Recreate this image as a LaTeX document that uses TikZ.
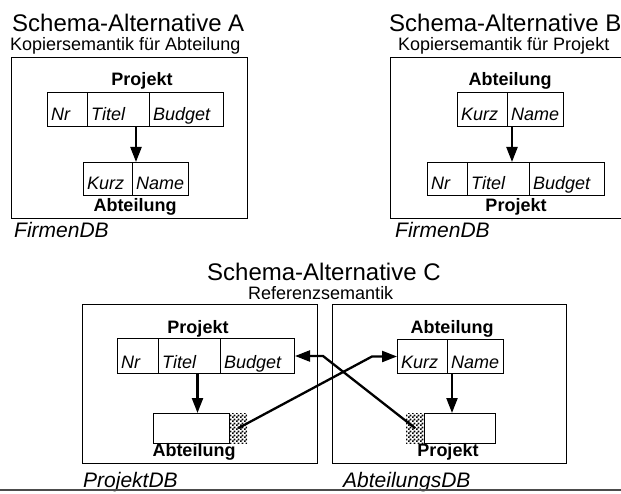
\documentclass[tikz,border=0pt]{standalone}
\usepackage{fontspec}
\setmainfont{Liberation Sans}
\usetikzlibrary{arrows.meta,patterns,calc}
\pgfdeclarepatternformonly{finecheck}{\pgfpointorigin}{\pgfpoint{4pt}{4pt}}{\pgfpoint{4pt}{4pt}}{%
 \pgfpathrectangle{\pgfpointorigin}{\pgfpoint{2pt}{2pt}}%
 \pgfpathrectangle{\pgfpoint{2pt}{2pt}}{\pgfpoint{2pt}{2pt}}%
 \pgfusepath{fill}}
\tikzset{
 dbbox/.style={draw, line width=1pt, inner sep=0, anchor=north west},
 cell/.style={draw, line width=1pt, inner sep=0, anchor=north west},
 chk/.style={pattern=finecheck, inner sep=0, anchor=north west},
 celltxt/.style={inner sep=0, anchor=base west, font=\fontsize{18}{20}\selectfont\itshape},
 lbl/.style={inner sep=0, anchor=base, font=\fontsize{18}{20}\selectfont\bfseries},
 ttl/.style={inner sep=0, anchor=base west, font=\fontsize{24}{28}\selectfont},
 subttl/.style={inner sep=0, anchor=base west, font=\fontsize{18}{20}\selectfont},
 dbname/.style={inner sep=0, anchor=base west, font=\fontsize{21}{24}\selectfont\itshape},
 arr/.style={line width=2.3pt, -{Triangle[length=15pt,width=11pt]}},
 baserule/.style={line width=1.5pt, draw=black!70}
}
\newcommand\mycell[6]{%
 \node[cell,minimum width=#4,minimum height=#5] (#1) at (#2,#3) {};%
 \node[celltxt] (#1-t) at ($(#1.south west)+(4,-6)$) {#6};}
\begin{document}
\begin{tikzpicture}[x=1pt,y=-1pt]
\useasboundingbox (0,0) rectangle (621,494);
\clip (0,0) rectangle (621,494);
\fill[white] (0,0) rectangle (621,494);

% ---------- Alternative A ----------
\node[ttl] (tA) at (12,32) {Schema-Alternative A};
\node[subttl] (sA) at (10,51) {Kopiersemantik für Abteilung};
\node[dbbox, minimum width=236, minimum height=161] (boxA) at (11,57) {};
\node[lbl] (lpA) at (142,86) {Projekt};
\mycell{pAnr}{47}{92}{40}{34}{Nr}
\mycell{pAtitel}{87}{92}{62}{34}{Titel}
\mycell{pAbudget}{149}{92}{74}{34}{Budget}
\mycell{aAkurz}{83}{162}{49}{33}{Kurz}
\mycell{aAname}{132}{162}{56}{33}{Name}
\node[lbl] (laA) at (135,212) {Abteilung};
\node[dbname] (dbA) at (14,238) {FirmenDB};
\coordinate (aAtop) at ($(aAkurz.north west)!0.5!(aAname.north east)$);
\draw[arr] (pAtitel.south -| aAtop) -- (aAtop);

% ---------- Alternative B ----------
\node[ttl] (tB) at (389,32) {Schema-Alternative B};
\node[subttl] (sB) at (398,51) {Kopiersemantik für Projekt};
\node[dbbox, minimum width=240, minimum height=161] (boxB) at (390,57) {};
\node[lbl] (laB) at (510,86) {Abteilung};
\mycell{aBkurz}{457}{92}{50}{34}{Kurz}
\mycell{aBname}{507}{92}{56}{34}{Name}
\mycell{pBnr}{427}{162}{40}{33}{Nr}
\mycell{pBtitel}{467}{162}{62}{33}{Titel}
\mycell{pBbudget}{529}{162}{75}{33}{Budget}
\node[lbl] (lpB) at (516,212) {Projekt};
\node[dbname] (dbB) at (395,238) {FirmenDB};
\coordinate (aBbot) at ([xshift=5pt]aBname.south west);
\draw[arr] (aBbot) -- (aBbot |- pBtitel.north);

% ---------- Alternative C ----------
\node[ttl] (tC) at (207,281) {Schema-Alternative C};
\node[subttl] (sC) at (248,299) {Referenzsemantik};
\node[dbbox, minimum width=235, minimum height=159] (boxCL) at (82,304) {};
\node[dbbox, minimum width=234, minimum height=159] (boxCR) at (332,304) {};

\node[lbl] (lpC) at (198,333) {Projekt};
\mycell{pCnr}{117}{338}{41}{35}{Nr}
\mycell{pCtitel}{158}{338}{62}{35}{Titel}
\mycell{pCbudget}{220}{338}{74}{35}{Budget}
\node[cell, minimum width=76, minimum height=30] (refL) at (153,413) {};
\node[chk, minimum width=18, minimum height=30] (chkL) at (229,413) {};
\node[lbl] (laC) at (194,456) {Abteilung};
\node[dbname] (dbCL) at (83,487) {ProjektDB};
\coordinate (pCbot) at ([xshift=8pt]pCtitel.south);
\draw[arr] (pCbot) -- (pCbot |- refL.north);

\node[lbl] (laC2) at (452,333) {Abteilung};
\mycell{aCkurz}{397}{339}{50}{34}{Kurz}
\mycell{aCname}{447}{339}{56}{34}{Name}
\node[chk, minimum width=18, minimum height=30] (chkR) at (406,413) {};
\node[cell, minimum width=71, minimum height=30] (refR) at (424,413) {};
\node[lbl] (lpC2) at (448,456) {Projekt};
\node[dbname] (dbCR) at (343,487) {AbteilungsDB};
\coordinate (aCbot) at ([xshift=5pt]aCname.south west);
\draw[arr] (aCbot) -- (aCbot |- refR.north);

% cross references
\draw[arr] (chkL.center) -- ([xshift=-25pt]aCkurz.west) -- (aCkurz.west);
\draw[arr] (chkR.center) -- ([xshift=28pt]pCbudget.east) -- (pCbudget.east);

% bottom rule
\coordinate (ruleL) at (0,490);
\coordinate (ruleR) at (621,490);
\draw[baserule] (ruleL) -- (ruleR);
\end{tikzpicture}
\end{document}
